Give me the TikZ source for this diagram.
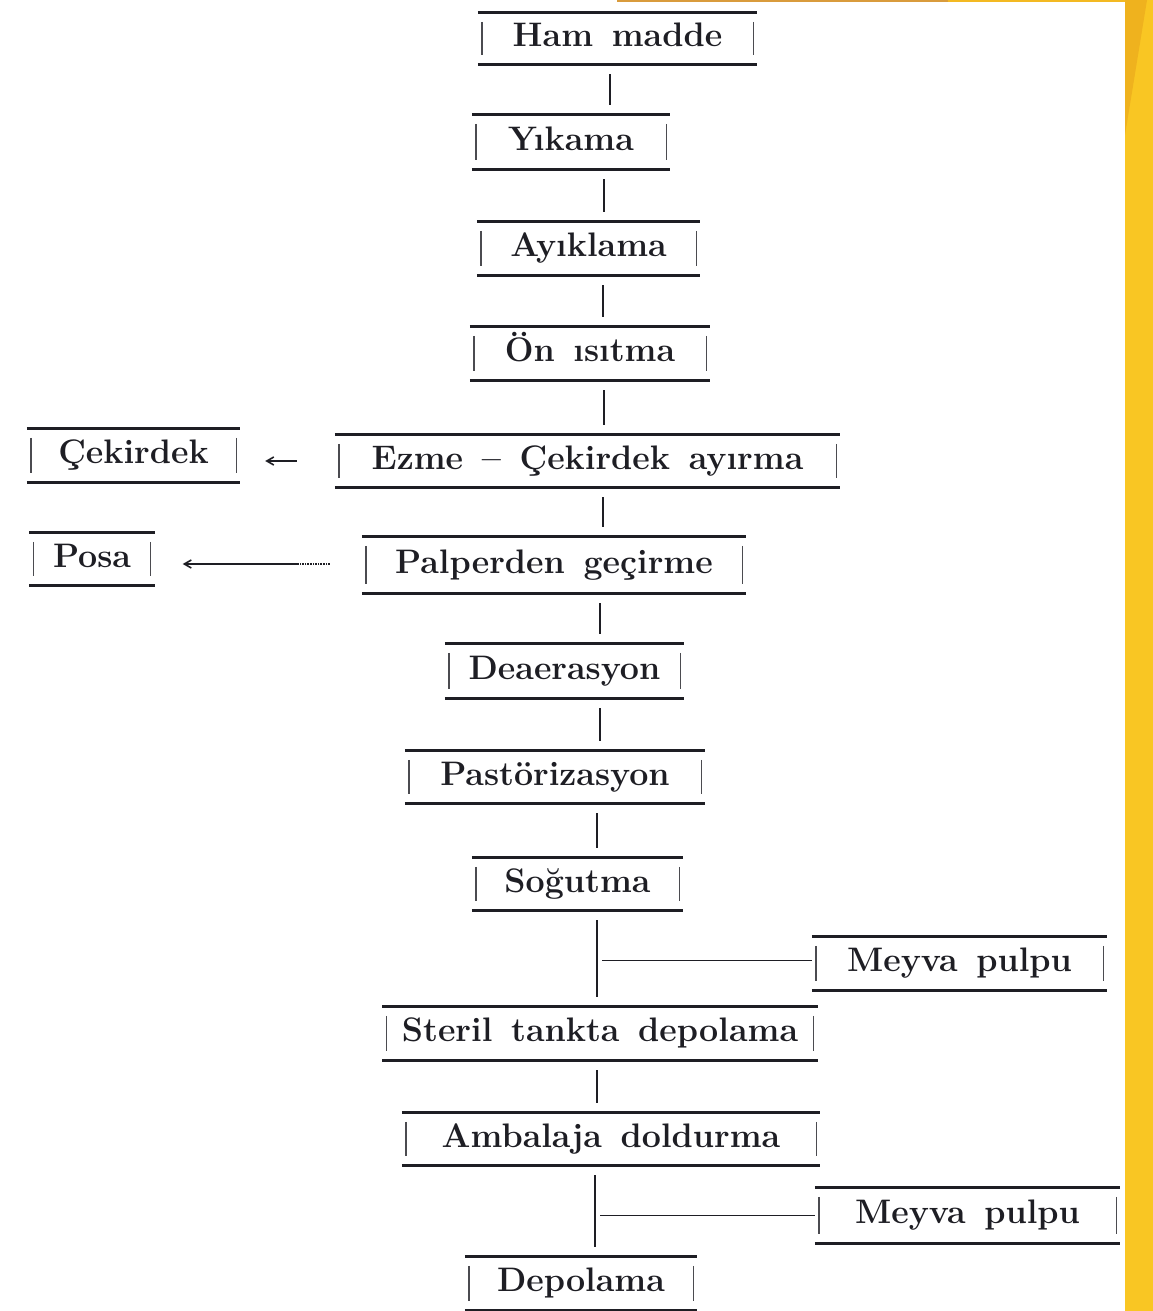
\documentclass[tikz,border=0pt]{standalone}
\usepackage{fontspec}
\usetikzlibrary{arrows.meta,calc}
\definecolor{ink}{HTML}{1E1E24}
\definecolor{bandyellow}{HTML}{F9C623}
\definecolor{banddark}{HTML}{EFB21E}
\definecolor{barorange}{HTML}{D99B3C}
\definecolor{baryellow}{HTML}{F3B922}
\newcommand\mywordspace{\spaceskip=0.55em plus 0.1em\relax}
\begin{document}
\begin{tikzpicture}[x=1pt,y=-1pt,
  stepbox/.style={inner sep=0pt, text height=24pt, text depth=8pt,
    font=\fontsize{34}{40}\selectfont\bfseries, text=ink,
    execute at begin node=\mywordspace},
  boxline/.style={line width=3pt, draw=ink},
  tickline/.style={line width=1.4pt, draw=ink!80},
  conn/.style={line width=1.6pt, draw=ink},
  arr/.style={conn, -{Straight Barb[length=7pt,width=8pt]}}]
% canvas
\fill[white] (0,0) rectangle (1153,1311);
\useasboundingbox (0,0) rectangle (1153,1311);
% decoration
\fill[bandyellow] (1125,0) rectangle (1153,1311);
\fill[banddark] (1125,0) -- (1147,0) -- (1125,135) -- cycle;
\fill[barorange] (617,0) rectangle (948,2.5);
\fill[baryellow] (948,0) rectangle (1125,2.5);

% boxes
\node[stepbox, minimum width=279pt, minimum height=51pt] (ham) at (617.5,38.5) {Ham madde};
\node[stepbox, minimum width=198pt, minimum height=54pt] (yik) at (571,142) {Yıkama};
\node[stepbox, minimum width=223pt, minimum height=53pt] (ayi) at (588.5,248.5) {Ayıklama};
\node[stepbox, minimum width=240pt, minimum height=53pt] (on) at (590,353.5) {Ön ısıtma};
\node[stepbox, minimum width=505pt, minimum height=52pt] (ezme) at (587.5,461) {Ezme -- Çekirdek ayırma};
\node[stepbox, minimum width=213pt, minimum height=53pt] (cek) at (133.5,455.5) {Çekirdek};
\node[stepbox, minimum width=384pt, minimum height=56pt] (palp) at (554,565) {Palperden geçirme};
\node[stepbox, minimum width=125pt, minimum height=52pt] (posa) at (92,559) {Posa};
\node[stepbox, minimum width=239pt, minimum height=54pt] (dea) at (564.5,671) {Deaerasyon};
\node[stepbox, minimum width=300pt, minimum height=52pt] (pas) at (555,777) {Pastörizasyon};
\node[stepbox, minimum width=211pt, minimum height=52pt] (sog) at (577.5,884) {Soğutma};
\node[stepbox, minimum width=295pt, minimum height=53pt] (mp1) at (959.5,963.5) {Meyva pulpu};
\node[stepbox, minimum width=435pt, minimum height=53pt] (ster) at (600,1033.5) {Steril tankta depolama};
\node[stepbox, minimum width=418pt, minimum height=52pt] (amb) at (611,1139) {Ambalaja doldurma};
\node[stepbox, minimum width=305pt, minimum height=55pt] (mp2) at (967.5,1215.5) {Meyva pulpu};
\node[stepbox, minimum width=232pt, minimum height=53pt] (dep) at (581,1283.5) {Depolama};

\foreach \n in {ham,yik,ayi,on,ezme,cek,palp,posa,dea,pas,sog,mp1,ster,amb,mp2,dep}{
  \draw[boxline] (\n.north west) -- (\n.north east);
  \draw[boxline] (\n.south west) -- (\n.south east);
  \draw[tickline] ($(\n.north west)+(4,9)$) -- ($(\n.south west)+(4,-9)$);
  \draw[tickline] ($(\n.north east)+(-4,9)$) -- ($(\n.south east)+(-4,-9)$);
}

% spine positions
\coordinate (s1) at (610,0);
\coordinate (s2) at (604,0);
\coordinate (s3) at (603,0);
\coordinate (s4) at (604,0);
\coordinate (s5) at (603,0);
\coordinate (s6) at (600,0);
\coordinate (s7) at (600,0);
\coordinate (s8) at (597,0);
\coordinate (s9) at (597,0);
\coordinate (s10) at (597,0);
\coordinate (s11) at (595,0);

\draw[conn] ($(ham.south -| s1)+(0,10)$) -- ($(yik.north -| s1)+(0,-10)$);
\draw[conn] ($(yik.south -| s2)+(0,10)$) -- ($(ayi.north -| s2)+(0,-10)$);
\draw[conn] ($(ayi.south -| s3)+(0,10)$) -- ($(on.north -| s3)+(0,-10)$);
\draw[conn] ($(on.south -| s4)+(0,10)$) -- ($(ezme.north -| s4)+(0,-10)$);
\draw[conn] ($(ezme.south -| s5)+(0,10)$) -- ($(palp.north -| s5)+(0,-10)$);
\draw[conn] ($(palp.south -| s6)+(0,10)$) -- ($(dea.north -| s6)+(0,-10)$);
\draw[conn] ($(dea.south -| s7)+(0,10)$) -- ($(pas.north -| s7)+(0,-10)$);
\draw[conn] ($(pas.south -| s8)+(0,10)$) -- ($(sog.north -| s8)+(0,-10)$);
\draw[conn] ($(sog.south -| s9)+(0,10)$) -- ($(ster.north -| s9)+(0,-10)$);
\draw[conn] ($(mp1.west -| s9)+(5,-3)$) -- ($(mp1.west)+(0,-3)$);
\draw[conn] ($(ster.south -| s10)+(0,10)$) -- ($(amb.north -| s10)+(0,-10)$);
\draw[conn] ($(amb.south -| s11)+(0,10)$) -- ($(dep.north -| s11)+(0,-10)$);
\draw[conn] ($(mp2.west -| s11)+(5,0)$) -- (mp2.west);

% side outputs
\draw[arr] ($(ezme.west)+(-38,0)$) -- ($(cek.east |- ezme.west)+(25,0)$);
\draw[conn, densely dotted] ($(palp.west)+(-32,-1)$) -- ($(palp.west)+(-64,-1)$);
\draw[arr] ($(palp.west)+(-64,-1)$) -- ($(posa.east |- palp.west)+(28,-1)$);
\end{tikzpicture}
\end{document}
